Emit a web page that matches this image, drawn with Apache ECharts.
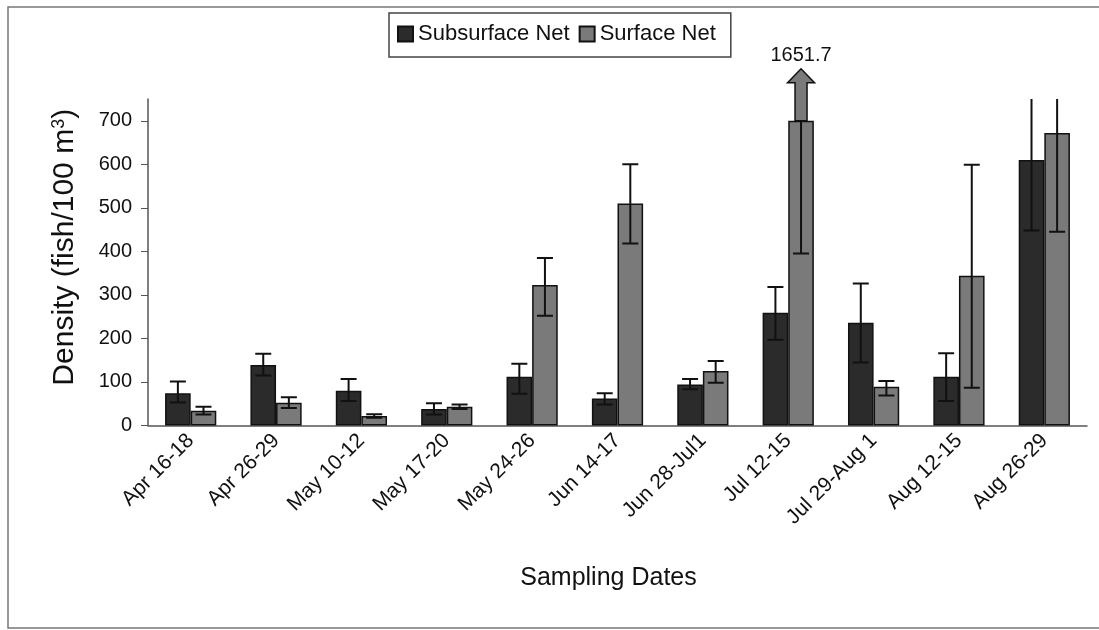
<!DOCTYPE html>
<html>
<head>
<meta charset="utf-8">
<script src="https://cdn.jsdelivr.net/npm/echarts@6/dist/echarts.min.js"></script>
<style>
html,body{margin:0;padding:0;background:#fff;}
#chart{width:1099px;height:630px;}
</style>
</head>
<body>
<div id="chart"></div>
<script>
// ---- data ----
const categories = ['Apr 16-18','Apr 26-29','May 10-12','May 17-20','May 24-26','Jun 14-17','Jun 28-Jul1','Jul 12-15','Jul 29-Aug 1','Aug 12-15','Aug 26-29'];
const subsurface = [74, 139, 80, 38, 112, 62, 94, 259, 236, 112, 610];
// Jul 12-15 surface bar is drawn cut off at 700 (true value 1651.7)
const surface = [34, 52, 22, 43, 323, 510, 125, 700, 89, 344, 672];
const subLow  = [53, 115, 56, 25, 73, 48, 83, 197, 145, 56, 448];
const subHigh = [101, 165, 107, 51, 142, 74, 107, 318, 326, 166, 772];
const surfLow  = [25, 40, 18, 38, 252, 418, 98, 395, 69, 87, 445];
const surfHigh = [43, 65, 26, 48, 385, 600, 148, 700, 102, 599, 899];
const brokenIndex = 7;
const brokenLabel = '1651.7';
const yTicks = [0, 100, 200, 300, 400, 500, 600, 700];

const FONT = 'Liberation Sans, Arial, sans-serif';
const SUB_COLOR = '#2b2b2b';
const SURF_COLOR = '#7a7a7a';
const Y_MAX = 750;

const chart = echarts.init(document.getElementById('chart'), null, {renderer: 'canvas'});

function errData(low, high, side) {
  return low.map((l, i) => [i, l, high[i], side]);
}

function renderErr(params, api) {
  const i = api.value(0);
  const lo = api.value(1);
  const hi = api.value(2);
  const side = api.value(3);
  const band = api.size([1, 0])[0];
  const bw = band * 0.6 / 2;
  const c = api.coord([i, 0]);
  const x = c[0] + side * bw / 2;
  const pLo = api.coord([i, lo]);
  const pHi = api.coord([i, hi]);
  const cap = 8;
  const children = [
    {type: 'line', shape: {x1: x, y1: pLo[1], x2: x, y2: pHi[1]}, style: {stroke: '#111', lineWidth: 2}},
    {type: 'line', shape: {x1: x - cap, y1: pLo[1], x2: x + cap, y2: pLo[1]}, style: {stroke: '#111', lineWidth: 2}}
  ];
  if (!(side > 0 && i === brokenIndex)) {
    children.push({type: 'line', shape: {x1: x - cap, y1: pHi[1], x2: x + cap, y2: pHi[1]}, style: {stroke: '#111', lineWidth: 2}});
  }
  return {type: 'group', children: children};
}

function renderArrow(params, api) {
  const i = api.value(0);
  const v = api.value(1);
  const band = api.size([1, 0])[0];
  const bw = band * 0.6 / 2;
  const p = api.coord([i, v]);
  const x = p[0] + bw / 2;
  const base = p[1];
  const tip = base - 52;
  const headBase = base - 38;
  const sw = 6, hw = 13.5;
  return {
    type: 'group',
    children: [
      {type: 'polygon', shape: {points: [[x - sw, base], [x - sw, headBase], [x - hw, headBase], [x, tip], [x + hw, headBase], [x + sw, headBase], [x + sw, base]]},
        style: {fill: SURF_COLOR, stroke: '#111', lineWidth: 1.5}},
      {type: 'text', style: {text: brokenLabel, x: x, y: tip - 3, align: 'center', verticalAlign: 'bottom', fontSize: 20, fontFamily: FONT, fill: '#111'}}
    ]
  };
}

const option = {
  backgroundColor: '#fff',
  animation: false,
  textStyle: {fontFamily: FONT},
  graphic: [{
    type: 'rect', shape: {x: 8, y: 7, width: 1100, height: 621},
    style: {fill: 'none', stroke: '#777', lineWidth: 1.5}, silent: true, z: 0
  }],
  legend: {
    data: ['Subsurface Net', 'Surface Net'],
    left: 389, top: 13,
    orient: 'horizontal',
    itemWidth: 15, itemHeight: 15, itemGap: 9,
    icon: 'rect',
    padding: [10, 15, 12, 8],
    borderColor: '#444', borderWidth: 1.5,
    textStyle: {fontSize: 22, fontFamily: FONT, color: '#111'}
  },
  grid: {left: 148, right: 12, top: 99, bottom: 204.5, containLabel: false},
  xAxis: {
    type: 'category',
    data: categories,
    axisLine: {lineStyle: {color: '#555', width: 1.5}},
    axisTick: {show: false},
    axisLabel: {rotate: 45, fontSize: 21, fontFamily: FONT, color: '#111', margin: 12, interval: 0},
    name: 'Sampling Dates',
    nameLocation: 'middle',
    nameGap: 140,
    nameTextStyle: {fontSize: 25, fontFamily: FONT, color: '#111', padding: [0, 18, 0, 0]}
  },
  yAxis: {
    type: 'value',
    min: 0, max: Y_MAX,
    splitLine: {show: false},
    axisLine: {show: true, lineStyle: {color: '#555', width: 1.5}},
    axisTick: {show: true, length: 7, customValues: yTicks, lineStyle: {color: '#555'}},
    axisLabel: {customValues: yTicks, fontSize: 20, fontFamily: FONT, color: '#111', margin: 16},
    name: 'Density (fish/100 m{sup|3})',
    nameLocation: 'middle',
    nameRotate: 90,
    nameGap: 68,
    nameTextStyle: {fontSize: 30, fontFamily: FONT, color: '#111', padding: [0, 0, 0, 30],
      rich: {sup: {fontSize: 18, fontFamily: FONT, color: '#111', verticalAlign: 'top', padding: [0, 0, 12, 0]}}}
  },
  series: [
    {name: 'Subsurface Net', type: 'bar', data: subsurface, barGap: '0%', barCategoryGap: '40%',
      itemStyle: {color: SUB_COLOR, borderColor: '#111', borderWidth: 1.5}},
    {name: 'Surface Net', type: 'bar', data: surface, barGap: '0%', barCategoryGap: '40%',
      itemStyle: {color: SURF_COLOR, borderColor: '#111', borderWidth: 1.5}},
    {type: 'custom', renderItem: renderErr, data: errData(subLow, subHigh, -1), clip: true, z: 5},
    {type: 'custom', renderItem: renderErr, data: errData(surfLow, surfHigh, 1), clip: true, z: 5},
    {type: 'custom', renderItem: renderArrow, data: [[brokenIndex, surface[brokenIndex]]], clip: false, z: 6}
  ]
};
chart.setOption(option);
</script>
</body>
</html>
